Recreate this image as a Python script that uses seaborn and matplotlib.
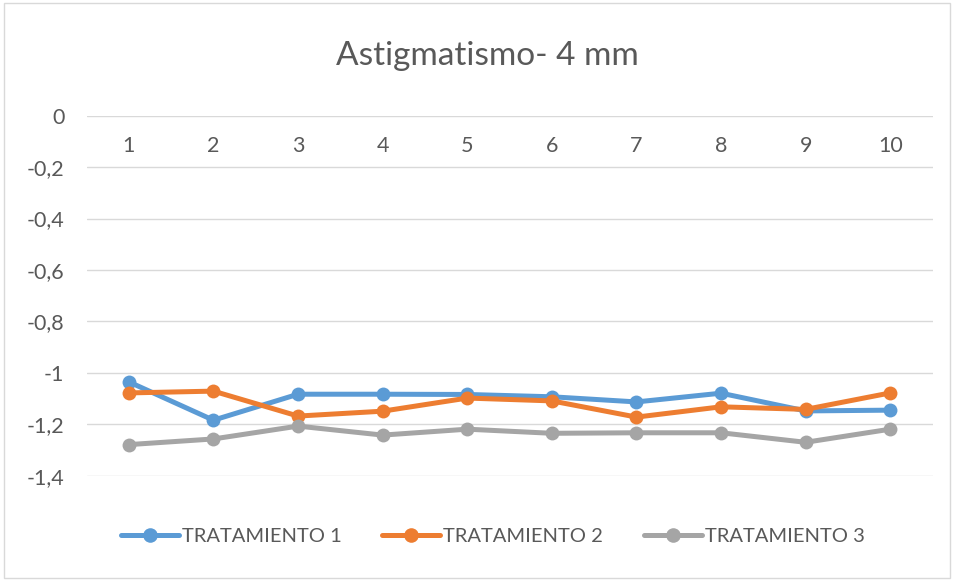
import matplotlib
matplotlib.use("Agg")
import matplotlib.pyplot as plt
from matplotlib.patches import Rectangle
from matplotlib.lines import Line2D
import matplotlib.transforms as mtransforms
import seaborn as sns
import pandas as pd

# Sessions 1..10 and mean astigmatism (4 mm pupil) per treatment
sesiones = [1, 2, 3, 4, 5, 6, 7, 8, 9, 10]
tratamiento_1 = [-1.035, -1.184, -1.083, -1.083, -1.084, -1.093, -1.113, -1.079, -1.148, -1.145]
tratamiento_2 = [-1.078, -1.071, -1.168, -1.149, -1.098, -1.109, -1.172, -1.132, -1.142, -1.078]
tratamiento_3 = [-1.279, -1.257, -1.207, -1.242, -1.219, -1.235, -1.233, -1.233, -1.270, -1.219]
series_names = ["TRATAMIENTO 1", "TRATAMIENTO 2", "TRATAMIENTO 3"]
y_ticks = [0, -0.2, -0.4, -0.6, -0.8, -1.0, -1.2, -1.4]
y_tick_labels = ["0", "-0,2", "-0,4", "-0,6", "-0,8", "-1", "-1,2", "-1,4"]
title = "Astigmatismo- 4 mm"

colors = ["#5B9BD5", "#ED7D31", "#A5A5A5"]
text_color = "#595959"

df = pd.concat([
    pd.DataFrame({"sesion": sesiones, "valor": vals, "serie": name})
    for name, vals in zip(series_names, [tratamiento_1, tratamiento_2, tratamiento_3])
])

sns.set_style("white")
plt.rcParams["font.family"] = ["Lato", "DejaVu Sans"]

fig = plt.figure(figsize=(9.55, 5.81), dpi=100)
ax = fig.add_axes([0.0906, 0.1812, 0.8859, 0.6196])

sns.lineplot(data=df, x="sesion", y="valor", hue="serie", palette=colors,
             marker="o", markersize=10, markeredgewidth=0, linewidth=3.6,
             dashes=False, ax=ax, legend=False)

ax.set_xlim(0.5, 10.5)
ax.set_ylim(-1.4, 0)
ax.set_yticks(y_ticks)
ax.set_yticklabels(y_tick_labels)
ax.set_xticks([])
ax.set_xlabel("")
ax.set_ylabel("")
ax.tick_params(axis="y", length=0, pad=16, labelsize=15.5, labelcolor=text_color)
ax.grid(axis="y", color="#D9D9D9", linewidth=1)
ax.set_axisbelow(True)
for s in ax.spines.values():
    s.set_visible(False)

# Category labels sit just under the zero line
trans = mtransforms.blended_transform_factory(ax.transData, ax.transAxes)
for s in sesiones:
    ax.text(s, 0.916, str(s), transform=trans, ha="center", va="center",
            fontsize=15.5, color=text_color)

fig.text(0.51, 0.903, title, ha="center", va="center", fontsize=24, color=text_color)

handles = [Line2D([0], [0], color=c, linewidth=3.6, marker="o", markersize=10.5,
                  markeredgewidth=0) for c in colors]
fig.legend(handles, series_names, loc="center", bbox_to_anchor=(0.516, 0.077),
           ncol=3, frameon=False, fontsize=14.5, labelcolor=text_color,
           handlelength=2.9, handletextpad=0.15, columnspacing=2.0)

fig.patches.append(Rectangle((0.004, 0.006), 0.991, 0.988, transform=fig.transFigure,
                             fill=False, edgecolor="#D9D9D9", linewidth=1))

fig.savefig("out.png", dpi=100)
